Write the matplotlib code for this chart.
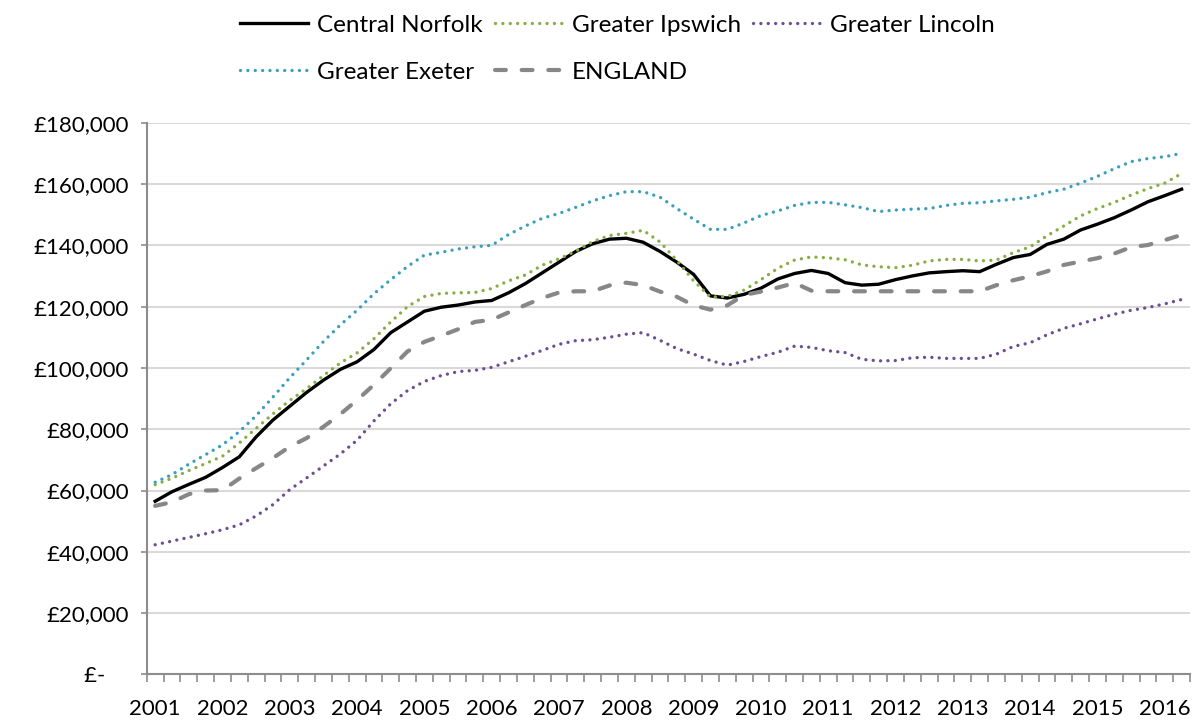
import matplotlib
matplotlib.use("Agg")
import matplotlib.pyplot as plt
from matplotlib.ticker import FixedLocator, FuncFormatter

plt.rcParams["font.family"] = ["Lato", "DejaVu Sans"]

# quarterly average prices, 2001 Q1 onwards
years = list(range(2001, 2017))

central_norfolk = [
    56500, 59600, 62000, 64300, 67500, 71000, 77500, 83000, 87500, 92000,
    96000, 99500, 102000, 106000, 111500, 115000, 118500, 119800, 120500, 121500,
    122000, 124500, 127500, 131000, 134500, 138000, 140500, 142000, 142300, 141000,
    138000, 134500, 130500, 123500, 122800, 124000, 126000, 129000, 130800, 131800,
    130800, 127800, 127000, 127300, 128800, 130000, 131000, 131400, 131700, 131400,
    133800, 136000, 137000, 140300, 142000, 145000, 146900, 149000, 151500, 154200,
    156200, 158300,
]
greater_ipswich = [
    61900, 64000, 66500, 68800, 71200, 75500, 80300, 85000, 89400, 93200,
    97500, 101600, 104900, 109500, 115000, 120000, 123300, 124300, 124500, 124600,
    125900, 128400, 130300, 133500, 135600, 138100, 141200, 143200, 143900, 144900,
    141100, 135100, 128400, 123100, 123300, 125400, 128800, 132500, 135200, 136200,
    135900, 135300, 133600, 133000, 132700, 133500, 134900, 135400, 135400, 134900,
    135200, 137600, 139500, 143100, 146300, 149600, 152000, 154000, 156400, 158500,
    160300, 163400,
]
greater_lincoln = [
    42300, 43500, 44700, 45900, 47200, 48800, 51700, 55400, 60300, 64100,
    68000, 71900, 76400, 82700, 88300, 92600, 95600, 97500, 98800, 99200,
    100200, 102000, 103800, 105700, 107700, 108900, 109200, 110000, 111000, 111500,
    109000, 106300, 104500, 102400, 100900, 102100, 103700, 105100, 107100, 106700,
    105600, 105000, 102800, 102300, 102400, 103300, 103500, 103100, 103100, 103100,
    104500, 107000, 108200, 110800, 112900, 114400, 116000, 117500, 118800, 119700,
    120900, 122300,
]
greater_exeter = [
    62700, 65200, 68600, 71700, 74900, 79200, 84400, 90500, 96800, 102600,
    108600, 114000, 118800, 124200, 128800, 133100, 136800, 137700, 138800, 139500,
    140000, 143500, 146300, 148800, 150400, 152400, 154500, 156200, 157500, 157500,
    155700, 152000, 148500, 145200, 145200, 147300, 149700, 151200, 153000, 154000,
    154000, 153200, 152300, 151000, 151500, 151800, 152000, 153000, 153700, 153900,
    154500, 155000, 155700, 157200, 158300, 160300, 162500, 165000, 167300, 168300,
    168900, 170000,
]
england = [
    55000, 56200, 58800, 60000, 60100, 63900, 67300, 70600, 74300, 77100,
    80800, 84900, 89500, 94500, 99900, 105400, 108500, 110500, 112600, 115000,
    115700, 118100, 120500, 122800, 124600, 125000, 125000, 126900, 127800, 127000,
    124900, 123200, 120400, 119000, 120400, 123800, 124900, 126200, 127700, 125200,
    125000, 125000, 125000, 125000, 125000, 125000, 125000, 125000, 125000, 125000,
    127000, 128600, 129900, 131500, 133600, 134700, 135800, 137300, 139400, 140100,
    141700, 143400,
]

n = len(central_norfolk)
x = list(range(n))

fig = plt.figure(figsize=(11.99, 7.2), dpi=100)
ax = fig.add_axes([0.1224, 0.0633, 0.8701, 0.7663])

dot = (0, (0.01, 2.2))
l_nor, = ax.plot(x, central_norfolk, color="black", lw=2.4, solid_joinstyle="round")
l_ips, = ax.plot(x, greater_ipswich, color="#87ad45", lw=2.4, ls=dot, dash_capstyle="round")
l_lin, = ax.plot(x, greater_lincoln, color="#6b4f93", lw=2.4, ls=dot, dash_capstyle="round")
l_exe, = ax.plot(x, greater_exeter, color="#3a9fbd", lw=2.4, ls=dot, dash_capstyle="round")
l_eng, = ax.plot(x, england, color="#878787", lw=3.0, ls=(0, (2.6, 3.8)), dash_capstyle="round")

ax.set_xlim(-0.5, n - 0.5)
ax.set_ylim(0, 180000)

# y axis: £ accounting style labels
ax.yaxis.set_major_locator(FixedLocator(range(0, 180001, 20000)))
ax.yaxis.set_major_formatter(FuncFormatter(lambda v, p: "£-    " if v == 0 else f"£{v:,.0f}"))
ax.grid(axis="y", color="#d9d9d9", lw=1.5)
ax.set_axisbelow(True)

# x axis: one label per year, tick marks between quarters
ax.xaxis.set_major_locator(FixedLocator([i * 4 for i in range(len(years))]))
ax.set_xticklabels([str(y) for y in years])
ax.xaxis.set_minor_locator(FixedLocator([i - 0.5 for i in range(n + 1)]))
ax.tick_params(axis="x", which="major", length=0, pad=18, labelsize=16)
ax.tick_params(axis="x", which="minor", length=6, width=1.2, color="#8c8c8c")
ax.tick_params(axis="y", which="major", length=4, width=1.2, color="#8c8c8c", pad=9, labelsize=16)

for side in ("top", "right"):
    ax.spines[side].set_visible(False)
for side in ("left", "bottom"):
    ax.spines[side].set_color("#8c8c8c")
    ax.spines[side].set_linewidth(1.5)

# column-major order so the rows read Norfolk/Ipswich/Lincoln then Exeter/England
handles = [l_nor, l_exe, l_ips, l_eng, l_lin]
labels = ["Central Norfolk", "Greater Exeter", "Greater Ipswich", "ENGLAND", "Greater Lincoln"]
fig.legend(handles, labels, ncol=3, loc="upper left", bbox_to_anchor=(0.188, 1.0),
           frameon=False, fontsize=17.5, handlelength=2.8, handletextpad=0.37,
           columnspacing=0.5, labelspacing=1.07, borderaxespad=0.2)

fig.savefig("out.png", dpi=100)
